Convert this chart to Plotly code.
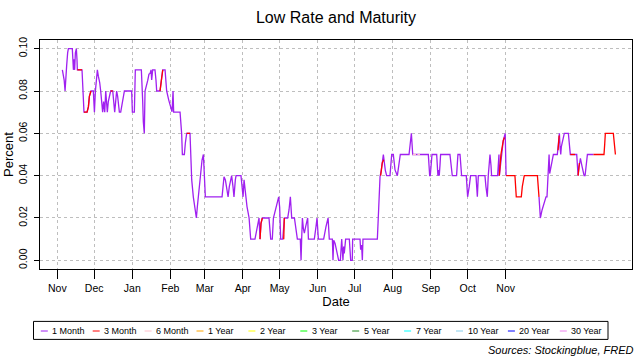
import pandas as pd
import plotly.graph_objects as go

START = pd.Timestamp("2012-11-01")

# ---- data: day offsets from START and values (percent) ----
m1_days = [4.1, 4.9, 5.6, 6.3, 7.1, 7.6, 8.4, 9.0, 12.2, 13.1, 13.6, 14.1, 14.7, 15.5, 16.0, 16.3, 20.1, 20.6, 21.2, 21.7,
           24.2, 25.3, 26.1, 27.4, 29.3, 30.2, 31.0, 31.8, 32.6, 33.4, 34.5, 35.3, 36.1, 36.9, 37.7, 38.6, 39.4, 40.2, 40.7,
           41.5, 42.4, 43.4, 45.1, 45.9, 46.7, 47.5, 48.3, 49.1, 50.5, 51.6, 52.4, 53.8, 54.6, 60.5, 61.1, 62.7, 63.5, 68.4,
           68.9, 69.5, 70.0, 70.8, 71.4, 72.5, 73.6, 74.6,
           75.5, 76.3, 76.8, 77.6, 79.5, 80.3, 80.9, 83.6, 85.8, 87.7, 88.5, 89.0, 90.7, 92.3, 93.4, 94.2, 94.7, 99.9, 100.7,
           101.2, 101.8, 103.4, 104.2, 105.3, 108.0, 108.6, 109.4, 110.7, 112.4, 113.2, 114.0, 115.4, 116.7, 117.8, 118.9,
           119.7, 120.5, 134.1, 134.9, 135.7, 136.8, 137.9, 139.0, 140.0, 141.1, 141.9, 143.0, 143.8, 144.9, 145.5, 149.5,
           150.4, 151.2, 152.0, 153.1,
           154.4, 156.1, 157.4, 160.9, 162.6, 164.2, 165.0, 165.8, 166.9, 172.3, 173.7, 175.0, 175.9, 177.8, 179.4, 180.2,
           181.0, 181.8, 183.5, 184.8, 187.5, 188.6, 189.7, 190.8, 193.0, 194.0, 195.4, 197.8, 198.4, 198.9, 199.5, 200.3,
           201.1, 202.2, 203.3, 203.8, 204.4, 209.2, 210.6, 211.4, 212.5, 216.8, 218.7, 220.4, 221.4, 223.9, 224.4, 225.0,
           226.1, 227.4, 229.0, 230.4,
           230.9, 231.5, 232.5, 233.1, 233.6, 234.7, 237.7, 238.8, 240.1, 240.4, 246.4, 246.9, 247.7, 248.3, 248.8, 260.5,
           261.6, 262.7, 263.7, 265.4, 267.0, 268.1, 270.8, 272.2, 273.5, 274.9, 276.8, 278.4, 279.2, 286.3, 287.6, 288.2,
           289.3, 302.0, 303.1, 303.6, 305.0,
           308.8, 309.3, 309.8, 310.4, 310.9, 311.5, 312.0, 319.6, 320.4, 321.5, 325.0, 325.6, 326.1, 327.8, 328.3, 329.1,
           332.9, 333.4, 334.0, 335.3, 336.4, 340.8, 341.3, 341.9, 342.7, 348.1, 348.9, 350.0, 350.8, 351.6, 352.2, 353.0,
           353.5, 358.4, 359.0, 359.5, 359.8, 363.0, 364.6, 365.3, None,
           392.1, 393.2, 394.6, 396.2, 397.8, 398.6, 399.7, 400.3, 400.8, 401.6, 402.7, 403.8, 407.0, 408.7, 409.2, 409.8,
           410.3, 411.4, 412.7, 416.0, 417.6, 422.8, 423.9, 424.7, 425.8, 426.9, 428.0, 428.8, 429.6, 430.4, 431.5, 436.4]
m1_vals = [0.090, 0.088, 0.085, 0.080, 0.085, 0.092, 0.098, 0.100, 0.100, 0.090, 0.095, 0.090, 0.098, 0.100, 0.095, 0.090,
           0.090, 0.0845, 0.075, 0.070, 0.070, 0.0725, 0.0775, 0.080, 0.080, 0.070, 0.080, 0.087, 0.090, 0.087, 0.084,
           0.080, 0.075, 0.070, 0.075, 0.070, 0.080, 0.0725, 0.070, 0.075, 0.078, 0.080, 0.080, 0.0725, 0.070, 0.075,
           0.080, 0.0775, 0.070, 0.070, 0.0725, 0.0775, 0.080, 0.080, 0.070, 0.070, 0.090, 0.090, 0.085, 0.075, 0.0655,
           0.060, 0.080, 0.082, 0.085, 0.088,
           0.0883, 0.090, 0.0852, 0.090, 0.090, 0.0852, 0.080, 0.080, 0.090, 0.090, 0.0844, 0.080, 0.0757, 0.0718, 0.0702,
           0.080, 0.070, 0.070, 0.0655, 0.060, 0.050, 0.050, 0.0553, 0.060, 0.060, 0.0498, 0.038, 0.030, 0.023, 0.020,
           0.0254, 0.0348, 0.041, 0.0474, 0.050, 0.0395, 0.030, 0.030, 0.0364, 0.0395, 0.038, 0.0332, 0.030, 0.0348,
           0.038, 0.040, 0.0348, 0.030, 0.038, 0.040, 0.040, 0.0348, 0.030, 0.038, 0.0317,
           0.0254, 0.020, 0.010, 0.010, 0.0159, 0.020, 0.010, 0.0175, 0.020, 0.020, 0.010, 0.010, 0.020, 0.0246, 0.0285,
           0.030, 0.025, 0.010, 0.010, 0.020, 0.020, 0.0238, 0.030, 0.020, 0.020, 0.0159, 0.010, 0.010, 0.000, 0.010,
           0.020, 0.015, 0.0128, 0.016, 0.0183, 0.020, 0.010, 0.010, 0.016, 0.020, 0.010, 0.010, 0.0159, 0.020, 0.010,
           0.010, 0.000, 0.0095, 0.008, 0.005, 0.000, 0.000,
           0.0072, 0.010, 0.000, 0.0065, 0.0033, 0.010, 0.010, 0.000, 0.000, 0.010, 0.010, 0.005, 0.0072, 0.000, 0.010,
           0.010, 0.0246, 0.0395, 0.0425, 0.050, 0.0425, 0.040, 0.040, 0.050, 0.050, 0.0427, 0.040, 0.0474, 0.050, 0.050,
           0.0565, 0.060, 0.050, 0.050, 0.040, 0.040, 0.050,
           0.050, 0.045, 0.040, 0.0427, 0.040, 0.045, 0.050, 0.050, 0.045, 0.040, 0.040, 0.045, 0.050, 0.050, 0.045, 0.040,
           0.040, 0.0348, 0.030, 0.0348, 0.040, 0.040, 0.0348, 0.030, 0.040, 0.040, 0.0348, 0.030, 0.040, 0.0474, 0.050,
           0.045, 0.040, 0.040, 0.045, 0.050, 0.040, 0.0565, 0.060, 0.040, None,
           0.030, 0.020, 0.0238, 0.027, 0.030, 0.030, 0.040, 0.050, 0.041, 0.044, 0.047, 0.050, 0.050, 0.060, 0.0537, 0.050,
           0.0537, 0.0568, 0.060, 0.060, 0.050, 0.050, 0.040, 0.0443, 0.0482, 0.045, 0.042, 0.040, 0.040, 0.045, 0.050, 0.050]

m3_days = [16.3, 20.1, None, 21.7, 24.2, 25.3, 26.1, 27.4, None, 43.4, 45.1, None, 83.6, 85.8, None, 105.3, 108.0, None,
           165.0, 165.8, 166.9, None, 184.3, 184.8, None, 263.2, 264.5, 265.7, None,
           359.8, 361.1, 363.0, 363.9, None,
           365.3, 372.5, 373.6, 377.7, 378.5, 380.1, 390.8, 391.3, 392.1, None,
           407.6, 408.5, None, 417.6, 421.4, None, 423.9, 425.0, None,
           436.4, 445.0, 445.6, 446.1, 452.6, 453.2, 453.7, 454.3]
m3_vals = [0.090, 0.090, None, 0.070, 0.070, 0.0725, 0.0775, 0.080, None, 0.080, 0.080, None, 0.080, 0.090, None, 0.060,
           0.060, None, 0.010, 0.0175, 0.020, None, 0.010, 0.020, None, 0.040, 0.046, 0.0475, None,
           0.040, 0.050, 0.0565, 0.058, None,
           0.040, 0.040, 0.030, 0.030, 0.0348, 0.040, 0.040, 0.0348, 0.030, None,
           0.052, 0.059, None, 0.050, 0.050, None, 0.040, 0.046, None,
           0.050, 0.050, 0.055, 0.060, 0.060, 0.0565, 0.052, 0.050]

m6_days = [289.3, 292.0, None, 293.1, 295.2]
m6_vals = [0.050, 0.050, None, 0.050, 0.050]

series_names = ["1 Month", "3 Month", "6 Month", "1 Year", "2 Year", "3 Year", "5 Year", "7 Year", "10 Year",
                "20 Year", "30 Year"]
series_colors = ["#A020F0", "#FF0000", "#FFC0CB", "#FFA500", "#FFFF00", "#00FF00", "#228B22", "#00FFFF",
                 "#87CEEB", "#0000FF", "#EE82EE"]

month_ticks = pd.date_range("2012-11-01", "2013-11-01", freq="MS")
y_ticks = [0.00, 0.02, 0.04, 0.06, 0.08, 0.10]


def to_dates(days):
    return [None if d is None else START + pd.Timedelta(days=d) for d in days]


FONT = "Liberation Sans, Arial, sans-serif"
W, H = 640, 360
ML, MR, MT, MB = 40, 8, 40, 91
PW, PH = W - ML - MR, H - MT - MB


def px2x(px):
    return (px - ML) / PW


def py2y(py):
    return (H - MB - py) / PH


fig = go.Figure()
for days, vals, col in [(m1_days, m1_vals, series_colors[0]),
                        (m3_days, m3_vals, series_colors[1]),
                        (m6_days, m6_vals, series_colors[2])]:
    fig.add_trace(go.Scatter(x=to_dates(days), y=vals, mode="lines",
                             line=dict(color=col, width=1.3), connectgaps=False,
                             showlegend=False, hoverinfo="skip"))

axis_common = dict(showline=True, linecolor="black", linewidth=1, mirror=True,
                   ticks="outside", tickcolor="black", showgrid=True, gridcolor="#BEBEBE",
                   griddash="3px,3px", gridwidth=1, zeroline=False,
                   tickfont=dict(family=FONT, size=10.5, color="black"))

fig.update_layout(
    width=W, height=H, margin=dict(l=ML, r=MR, t=MT, b=MB),
    paper_bgcolor="white", plot_bgcolor="white",
    title=dict(text="Low Rate and Maturity", x=0.5, xref="paper", xanchor="center",
               y=1 - 17 / H, yref="container", yanchor="middle",
               font=dict(family=FONT, size=16, color="black")),
    xaxis=dict(type="date",
               range=[START + pd.Timedelta(days=-14.1), START + pd.Timedelta(days=467.8)],
               tickvals=list(month_ticks), tickformat="%b", ticklen=9,
               title=dict(text="Date", font=dict(family=FONT, size=13, color="black"), standoff=3),
               automargin=False, **axis_common),
    yaxis=dict(range=[-0.0041, 0.1041], tickvals=y_ticks, tickformat=".2f", tickangle=-90, ticklen=5,
               ticklabelstandoff=3,
               title=dict(text="Percent", font=dict(family=FONT, size=13, color="black"), standoff=0),
               automargin=False, **axis_common),
    showlegend=False,
)

# manual legend (R-style box)
shapes = [dict(type="rect", xref="paper", yref="paper", x0=px2x(33.5), x1=px2x(608), y0=py2y(339.4),
               y1=py2y(321.4), line=dict(color="black", width=1), fillcolor="rgba(0,0,0,0)")]
annotations = []
leg_y = 331
for i, (name, col) in enumerate(zip(series_names, series_colors)):
    dx = 40.8 + i * 51.9
    shapes.append(dict(type="line", xref="paper", yref="paper", x0=px2x(dx), x1=px2x(dx + 7),
                       y0=py2y(leg_y), y1=py2y(leg_y), line=dict(color=col, width=1)))
    annotations.append(dict(text=name, xref="paper", yref="paper", x=px2x(dx + 10.5), y=py2y(leg_y),
                            xanchor="left", yanchor="middle", showarrow=False, borderpad=0,
                            font=dict(family=FONT, size=9, color="black")))
annotations.append(dict(text="<i>Sources: Stockingblue, FRED</i>", xref="paper", yref="paper",
                        x=px2x(636), y=py2y(350), xanchor="right", yanchor="middle", showarrow=False,
                        font=dict(family=FONT, size=11, color="black")))
fig.update_layout(shapes=shapes, annotations=annotations)

fig.write_html("out.html", config={"displayModeBar": False},
               post_script="document.body.style.margin='0px';document.body.style.overflow='hidden';")
